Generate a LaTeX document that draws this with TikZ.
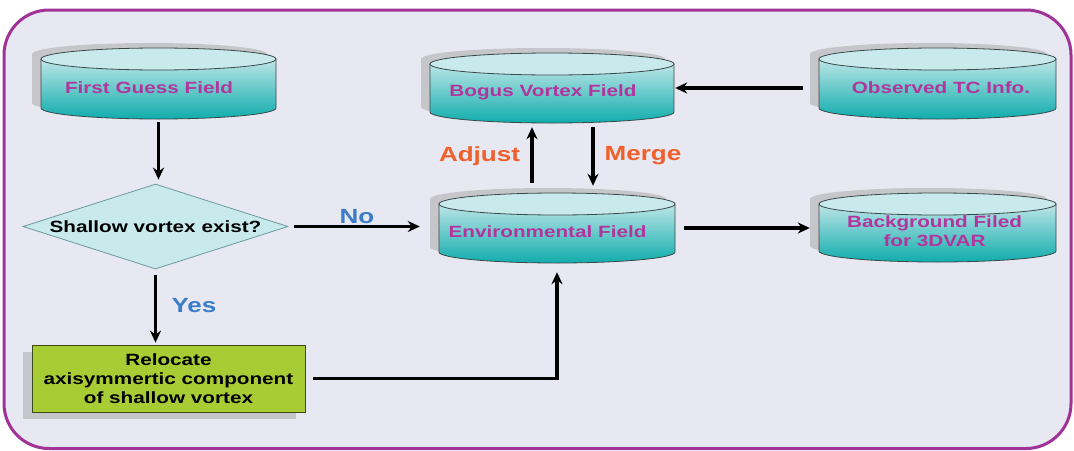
\documentclass[tikz,border=0pt]{standalone}
\usepackage{fontspec}
\setmainfont{Liberation Sans}[FakeStretch=1.27]
\usetikzlibrary{shapes.geometric,arrows.meta,calc,shadows}

\definecolor{framefill}{HTML}{E8E8F2}
\definecolor{frameline}{HTML}{A03298}
\definecolor{fieldmagenta}{HTML}{B2359E}
\definecolor{lidcyan}{HTML}{C9EAEC}
\definecolor{bodytop}{HTML}{BDE5E7}
\definecolor{bodybot}{HTML}{10ACAC}
\definecolor{edgegrey}{HTML}{3A4848}
\definecolor{shadowgrey}{HTML}{C6C6CA}
\definecolor{diamondedge}{HTML}{6A9A9A}
\definecolor{boxgreen}{HTML}{A8CC34}
\definecolor{boxedge}{HTML}{3E4A1A}
\definecolor{choiceblue}{HTML}{3B7DC8}
\definecolor{actionorange}{HTML}{F0602C}

\newcommand\fieldfont{\bfseries\fontsize{16.3}{19}\selectfont}
\newcommand\tagfont{\bfseries\fontsize{20.5}{24}\selectfont}

\tikzset{
  cylshadow/.style={fill=shadowgrey},
  cylbody/.style={top color=bodytop, bottom color=bodybot, draw=edgegrey, line width=0.8pt},
  cyllid/.style={fill=lidcyan, draw=edgegrey, line width=0.8pt},
  cylbox/.style={inner sep=0pt, draw=none},
  cyltext/.style={font=\fieldfont, text=fieldmagenta, align=center, inner sep=0pt},
  decision/.style={diamond, aspect=3.12, inner sep=0pt, minimum width=265pt,
    minimum height=85pt, fill=lidcyan, draw=diamondedge, line width=0.8pt,
    font=\fieldfont, text=black},
  process/.style={rectangle, minimum width=273pt, minimum height=67pt, inner sep=0pt,
    fill=boxgreen, draw=boxedge, line width=0.8pt, font=\fieldfont, text=black,
    align=center, general shadow={fill=shadowgrey, shadow xshift=-9pt, shadow yshift=-7pt}},
  choicetag/.style={font=\tagfont, text=choiceblue, inner sep=0pt},
  actiontag/.style={font=\tagfont, text=actionorange, inner sep=0pt},
  arr/.style={draw=black, line width=3.3pt, -{Stealth[length=12pt,width=11pt]}},
}

% drum-shaped data store: name, left, top, right, bottom, text, text dx, text dy
\newcommand\drum[8]{%
  \pgfmathsetmacro\drumcx{(#2+#4)/2}%
  \pgfmathsetmacro\drumrx{(#4-#2)/2}%
  \begin{scope}[shift={(-9,-5)}]
    \fill[cylshadow] ({#2},{#3+11}) -- ({#2},{#5-11})
      arc[start angle=180, end angle=360, x radius=\drumrx pt, y radius=11pt]
      -- ({#4},{#3+11})
      arc[start angle=0, end angle=180, x radius=\drumrx pt, y radius=11pt] -- cycle;
  \end{scope}
  \shadedraw[cylbody] ({#2},{#3+11}) -- ({#2},{#5-11})
    arc[start angle=180, end angle=360, x radius=\drumrx pt, y radius=11pt]
    -- ({#4},{#3+11}) -- cycle;
  \filldraw[cyllid] (\drumcx,{#3+11}) ellipse[x radius=\drumrx pt, y radius=11pt];
  \node[cylbox, minimum width={#4-#2}, minimum height={#5-#3}] (#1)
    at (\drumcx,{(#3+#5)/2}) {};
  \node[cyltext] (#1-text) at ([shift={(#7,#8)}]#1.center) {#6};
}

\begin{document}
\begin{tikzpicture}[x=1pt, y=-1pt]
  \useasboundingbox (0,0) rectangle (1074,450);
  \fill[white] (0,0) rectangle (1074,450);
  \filldraw[fill=framefill, draw=frameline, line width=3pt, rounded corners=45pt]
    (4,10) rectangle (1071,448.5);

  % data stores
  \drum{fg}{41}{48}{276}{119}{First Guess Field}{-9.5}{4.5}
  \drum{bv}{430}{53}{674}{123}{Bogus Vortex Field}{-9}{4}
  \drum{env}{439}{193}{675}{263}{Environmental Field}{-9.5}{4}
  \drum{obs}{819}{48}{1056}{119}{Observed TC Info.}{3.5}{4.5}
  \drum{bg}{819}{193}{1056}{262}{Background Filed\\for 3DVAR}{-3}{4}

  % decision and relocation step
  \node[decision] (q) at (155.5,226.5) {Shallow vortex exist?};
  \node[process] (g) at (168.5,378.5) {Relocate\\axisymmertic component\\of shallow vortex};

  % connectors
  \draw[arr, shorten <=3pt, shorten >=4pt] (fg.south) -- (fg.south |- q.north);
  \draw[arr, shorten <=6pt, shorten >=2pt] (q.south) -- (q.south |- g.north);
  \draw[arr, shorten <=6pt, shorten >=19pt] (q.east) -- (q.east -| env.west);
  \draw[arr, shorten >=4pt] ([xshift=-25pt, yshift=10pt]env.north) -- ([xshift=-25pt]env.north |- bv.south);
  \draw[arr, shorten <=4pt] ([xshift=36pt]env.north |- bv.south) -- ([xshift=36pt, yshift=7pt]env.north);
  \draw[arr, shorten <=16pt, shorten >=1pt] (obs.west |- bv.east) -- (bv.east);
  \draw[arr, shorten <=9pt, shorten >=9pt] (env.east) -- (env.east -| bg.west);
  \draw[arr, shorten <=8pt, shorten >=9pt] (g.east) -- (g.east -| env.south) -- (env.south);

  % connector tags
  \node[choicetag] (tag-no) at (357,217) {No};
  \node[choicetag] (tag-yes) at (194,306) {Yes};
  \node[actiontag] (tag-adjust) at (479.5,156) {Adjust};
  \node[actiontag] (tag-merge) at (643,156) {Merge};
\end{tikzpicture}
\end{document}
